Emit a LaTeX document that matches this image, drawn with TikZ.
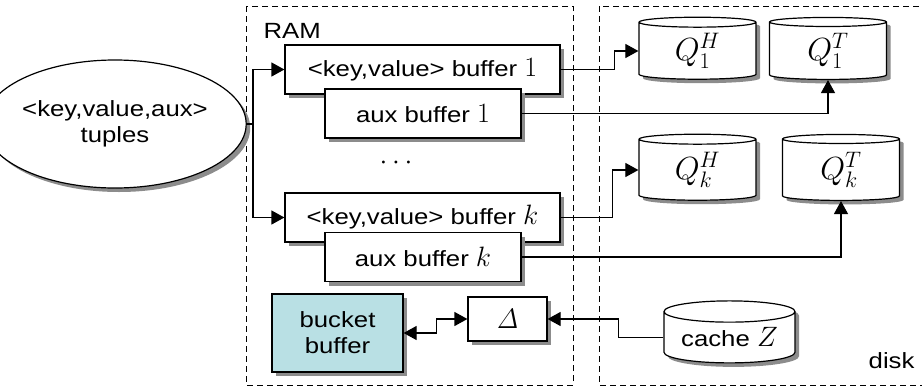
\RequirePackage{fix-cm}
\documentclass[tikz,border=0pt]{standalone}
\usepackage[no-math]{fontspec}
\setmainfont[FakeStretch=1.17]{Liberation Sans}
\usetikzlibrary{arrows.meta,positioning,calc,shapes.geometric,shadows}
\definecolor{bucketfill}{RGB}{185,224,228}
\newcommand{\mth}[2][28]{{\fontsize{#1}{30}\selectfont$#2$}} % larger math in labels
\tikzset{every node/.style={font=\fontsize{22}{26}\selectfont}, % Font of all labels
        buf/.style={ % Boxes in RAM
            draw, line width=1.2pt, fill=white,
            drop shadow={shadow xshift=4pt,shadow yshift=-4pt,fill=black!45,opacity=1},
            minimum width=275pt, minimum height=49pt, inner sep=0pt},
        store/.style={ % Cylinders on disk
            cylinder, shape border rotate=90, aspect=0.22,
            draw, line width=1.2pt, fill=white,
            drop shadow={shadow xshift=4pt,shadow yshift=-4pt,fill=black!45,opacity=1},
            minimum width=117pt, minimum height=62pt, inner sep=0pt},
        area/.style={draw, line width=1pt, dash pattern=on 6pt off 4pt},
        flow/.style={draw, line width=1.2pt, -{Triangle[length=13pt,width=14pt]}}
        }
\begin{document}
\begin{tikzpicture}[x=1pt,y=-1pt]
    \useasboundingbox (0,0) rectangle (922,389);
    \clip (0,0) rectangle (922,389);

    % memory areas
    \draw[area] (246,6) rectangle (573,385);
    \draw[area] (599,6) rectangle (940,385);
    \node[anchor=west] (ram) at (260,31) {RAM};
    \node[anchor=south east] (disk) at (918,372) {disk};

    % input
    \node[ellipse, draw, line width=1.2pt, fill=white, align=center,
          drop shadow={shadow xshift=4pt,shadow yshift=-4pt,fill=black!45,opacity=1},
          minimum width=208pt, minimum height=128pt, inner sep=0pt]
          (tuples) at (115,124) {<key,value,aux>\\tuples};

    % buffers
    \node[buf]                    (buf1) at (422.5,69.5) {<key,value> buffer \mth{1}};
    \node[buf, minimum width=196pt] (aux1) at (423,113.5) {aux buffer \mth{1}};
    \node                         (dots) at (396,163)    {\mth{\cdots}};
    \node[buf]                    (bufk) at (422.5,217.5) {<key,value> buffer \mth{k}};
    \node[buf, minimum width=196pt] (auxk) at (423,257)  {aux buffer \mth{k}};
    \node[buf, fill=bucketfill, align=center, minimum width=131pt, minimum height=78pt]
                                  (bucket) at (337.5,333) {bucket\\buffer};
    \node[buf, minimum width=79pt, minimum height=44pt]
                                  (delta) at (507.5,319) {\mth{\mathit{\Delta}}};

    % disk stores
    \node[store] (q1h) at (697.5,51) {\mth[32]{Q_1^H}};
    \node[store] (q1t) at (828,51)   {\mth[32]{Q_1^T}};
    \node[store, minimum height=66pt] (qkh) at (697.5,170) {\mth[32]{Q_k^H}};
    \node[store, minimum height=66pt] (qkt) at (841,170)   {\mth[32]{Q_k^T}};
    \node[store, minimum width=131pt] (cache) at (729.5,337.5) {cache \mth{Z}};

    % connectors
    \draw[line width=1.2pt] (tuples.east) -- (253,124) coordinate (split);
    \draw[flow] (split) |- (buf1.west);
    \draw[flow] (split) |- (bufk.west);

    \draw[flow] (buf1.east) -- ++(54,0) |- (q1h.west);
    \draw[flow] (aux1.east) -| (q1t.south);
    \draw[flow] (bufk.east) -- ++(52,0) |- (qkh.west);
    \draw[flow] (auxk.east) -| (qkt.south);

    \draw[flow, {Triangle[length=13pt,width=14pt]}-{Triangle[length=13pt,width=14pt]}]
        (bucket.east) -- ++(33,0) |- (delta.west);
    \draw[flow] (cache.west) -- ++(-45,0) |- (delta.east);
\end{tikzpicture}
\end{document}
